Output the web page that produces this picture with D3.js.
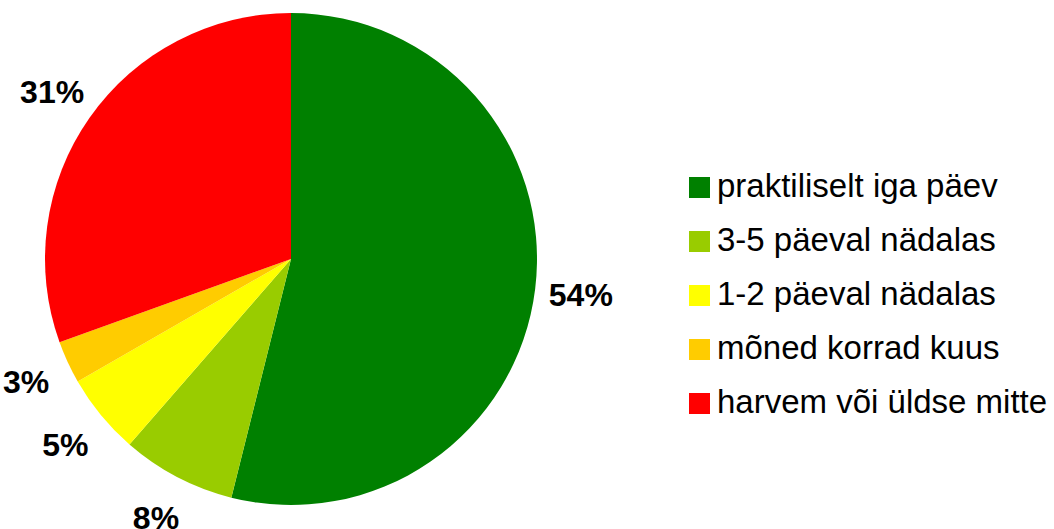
<!DOCTYPE html>
<html>
<head>
<meta charset="utf-8">
<script src="https://cdn.jsdelivr.net/npm/d3@7"></script>
<style>
  html, body { margin: 0; padding: 0; background: #fff; }
  svg { display: block; font-family: "Liberation Sans", Arial, sans-serif; }
</style>
</head>
<body>
<svg id="chart" width="1054" height="529"></svg>
<script>
const categories = ["praktiliselt iga päev", "3-5 päeval nädalas", "1-2 päeval nädalas", "mõned korrad kuus", "harvem või üldse mitte"];
const values = [53.9, 7.5, 5.3, 2.8, 30.5];
const labels = ["54%", "8%", "5%", "3%", "31%"];
const colors = ["#008000", "#99CC00", "#FFFF00", "#FFCC00", "#FF0000"];

const svg = d3.select("#chart");
const cx = 291, cy = 259, r = 246, labelR = 292;

const pie = d3.pie().sort(null).value(d => d)(values);
const arc = d3.arc().innerRadius(0).outerRadius(r);
const labelArc = d3.arc().innerRadius(labelR).outerRadius(labelR);

const g = svg.append("g").attr("transform", `translate(${cx},${cy})`);
g.selectAll("path").data(pie).join("path")
  .attr("d", arc)
  .attr("fill", (d, i) => colors[i]);

g.selectAll("text").data(pie).join("text")
  .attr("transform", d => `translate(${labelArc.centroid(d)})`)
  .attr("text-anchor", "middle")
  .attr("dy", "0.36em")
  .attr("font-size", 32)
  .attr("font-weight", "bold")
  .attr("fill", "#000")
  .text((d, i) => labels[i]);

const legendY = d3.scalePoint().domain(categories).range([197, 413]);
const leg = svg.append("g");
const items = leg.selectAll("g").data(categories).join("g")
  .attr("transform", d => `translate(689,${legendY(d)})`);
items.append("rect")
  .attr("x", 0).attr("y", -20).attr("width", 21).attr("height", 21)
  .attr("fill", (d, i) => colors[i]);
items.append("text")
  .attr("x", 28).attr("y", 0)
  .attr("font-size", 33)
  .attr("fill", "#000")
  .text(d => d);
</script>
</body>
</html>
